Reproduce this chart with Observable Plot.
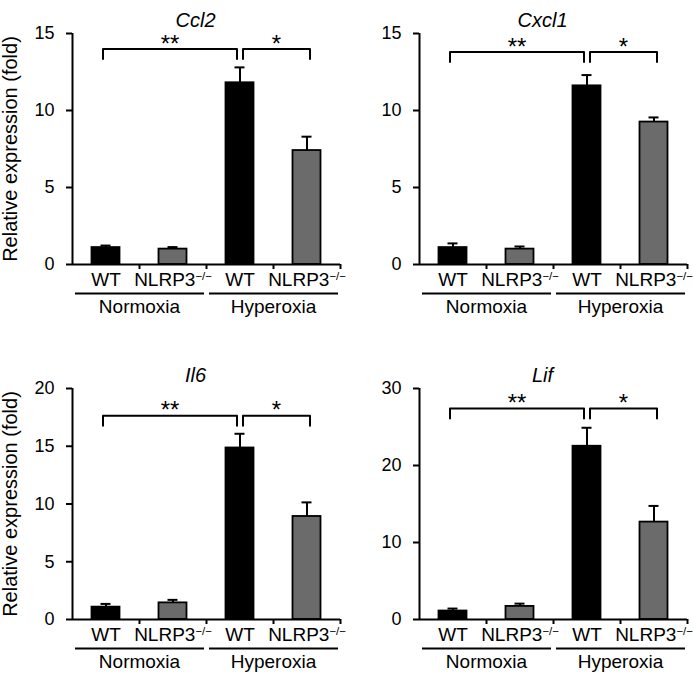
<!DOCTYPE html>
<html>
<head>
<meta charset="utf-8">
<script src="https://cdn.jsdelivr.net/npm/d3@7"></script>
<script src="https://cdn.jsdelivr.net/npm/@observablehq/plot@0.6"></script>
<style>
  body { margin: 0; background: #fff; }
  #chart { position: relative; width: 693px; height: 676px; }
  #chart > div { position: absolute; }
</style>
</head>
<body>
<div id="chart"></div>
<script>
const genes = ['Ccl2', 'Cxcl1', 'Il6', 'Lif']
const conditions = ['Normoxia', 'Hyperoxia']
const genotypes = ['WT', 'NLRP3−/−']
const sup = '−/−'

// means and SEM, order: Normoxia WT, Normoxia NLRP3, Hyperoxia WT, Hyperoxia NLRP3
const ccl2 = [1.1, 1.0, 11.8, 7.4]
const ccl2Err = [0.13, 0.13, 1.0, 0.9]
const cxcl1 = [1.1, 1.0, 11.6, 9.25]
const cxcl1Err = [0.27, 0.17, 0.7, 0.3]
const il6 = [1.07, 1.44, 14.85, 8.92]
const il6Err = [0.28, 0.26, 1.23, 1.22]
const lif = [1.1, 1.7, 22.5, 12.65]
const lifErr = [0.32, 0.36, 2.4, 2.1]

const values = [ccl2, cxcl1, il6, lif]
const errors = [ccl2Err, cxcl1Err, il6Err, lifErr]

const yMax = [15, 15, 20, 30]
const yTicks = [[0, 5, 10, 15], [0, 5, 10, 15], [0, 5, 10, 15, 20], [0, 10, 20, 30]]

// significance brackets (category index) and their level
const comparisons = [{from: 0, to: 2, label: '**'}, {from: 2, to: 3, label: '*'}]
const bracketLevel = [14.0, 13.8, 17.65, 27.4]

const keys = conditions.flatMap(c => genotypes.map(t => c + ' ' + t))
const font = '"Liberation Sans", Arial, sans-serif'

function panel(g) {
  const W = g % 2 ? 347 : 346, H = 321
  const mL = g % 2 ? 73 : 72, mR = 6, mT = 33, mB = 57
  const step = (W - mL - mR) / keys.length
  const drop = 10 * yMax[g] / (H - mT - mB)
  const lvl = bracketLevel[g]

  const data = keys.map((k, i) => ({
    key: k,
    condition: conditions[Math.floor(i / genotypes.length)],
    genotype: genotypes[i % genotypes.length],
    value: values[g][i],
    err: errors[g][i]
  }))

  const brackets = comparisons.map((c, j) => Plot.line([
      {x: keys[c.from], y: lvl - drop},
      {x: keys[c.from], y: lvl},
      {x: keys[c.to], y: lvl},
      {x: keys[c.to], y: lvl - drop}
    ], {x: 'x', y: 'y', stroke: '#000', strokeWidth: 2, dx: j ? 3 : -3, curve: 'linear'}))

  const stars = comparisons.map((c, j) => Plot.text([c.label], {
    x: () => keys[c.from], y: () => lvl,
    dx: (c.to - c.from) * step / 2 + (j ? 3 : -3), dy: -5,
    fontSize: 24, fill: '#000'
  }))

  const marks = [
    Plot.axisY({ticks: yTicks[g], tickSize: 6, tickPadding: 12, strokeWidth: 2, fontSize: 18, label: null}),
    Plot.ruleX([keys[0]], {x: d => d, y1: 0, y2: yMax[g], dx: -step / 2, strokeWidth: 2}),
    Plot.barY(data, {x: 'key', y: 'value', fill: 'genotype', stroke: '#000', strokeWidth: 1.8,
      insetLeft: (step - 28) / 2, insetRight: (step - 28) / 2}),
    Plot.ruleX(data, {x: 'key', y1: 'value', y2: d => d.value + d.err, strokeWidth: 2}),
    Plot.tickY(data, {x: 'key', y: d => d.value + d.err, strokeWidth: 2,
      insetLeft: (step - 10) / 2, insetRight: (step - 10) / 2}),
    Plot.ruleY([0], {strokeWidth: 2}),
    Plot.axisX(keys, {tickSize: 5, tickFormat: () => '', dx: step / 2, strokeWidth: 2, label: null}),
    Plot.text(data, {x: 'key', text: 'genotype', frameAnchor: 'bottom', dy: 21, fontSize: 19, fill: '#000'}),
    Plot.ruleY(conditions, {
      y: () => 0,
      x1: c => keys[conditions.indexOf(c) * genotypes.length],
      x2: c => keys[conditions.indexOf(c) * genotypes.length + genotypes.length - 1],
      dy: 29, strokeWidth: 2, insetLeft: 3, insetRight: 2
    }),
    Plot.text(conditions, {
      x: c => keys[conditions.indexOf(c) * genotypes.length],
      dx: step / 2, frameAnchor: 'bottom', dy: 48, fontSize: 19, fill: '#000'
    }),
    ...brackets,
    ...stars,
    Plot.text([genes[g]], {frameAnchor: 'top', dy: -21, dx: -11, fontSize: 20, fontStyle: 'italic', fill: '#000'})
  ]
  if (g % 2 === 0) {
    marks.push(Plot.text(['Relative expression (fold)'], {
      frameAnchor: 'left', textAnchor: 'middle', rotate: -90, dx: -62, fontSize: 20, fill: '#000'
    }))
  }

  const chart = Plot.plot({
    width: W, height: H,
    marginLeft: mL, marginRight: mR, marginTop: mT, marginBottom: mB,
    style: {fontFamily: font, color: '#000', background: 'transparent', overflow: 'visible'},
    x: {type: 'band', domain: keys, padding: 0, axis: null},
    y: {domain: [0, yMax[g]], axis: null},
    color: {domain: genotypes, range: ['#000000', '#6b6b6b']},
    marks
  })

  // superscript for the knockout label
  chart.querySelectorAll('text').forEach(t => {
    if (t.children.length === 0 && t.textContent.endsWith(sup) && t.textContent.length > sup.length) {
      const base = t.textContent.slice(0, -sup.length)
      t.textContent = base
      const ts = document.createElementNS('http://www.w3.org/2000/svg', 'tspan')
      ts.setAttribute('dy', '-0.5em')
      ts.setAttribute('font-size', '0.6em')
      ts.textContent = sup
      t.appendChild(ts)
    }
  })
  return chart
}

genes.forEach((gene, g) => {
  d3.select('#chart').append('div')
    .style('left', (g % 2 ? 346 : 0) + 'px')
    .style('top', (g < 2 ? 0 : 355) + 'px')
    .append(() => panel(g))
})
</script>
</body>
</html>
